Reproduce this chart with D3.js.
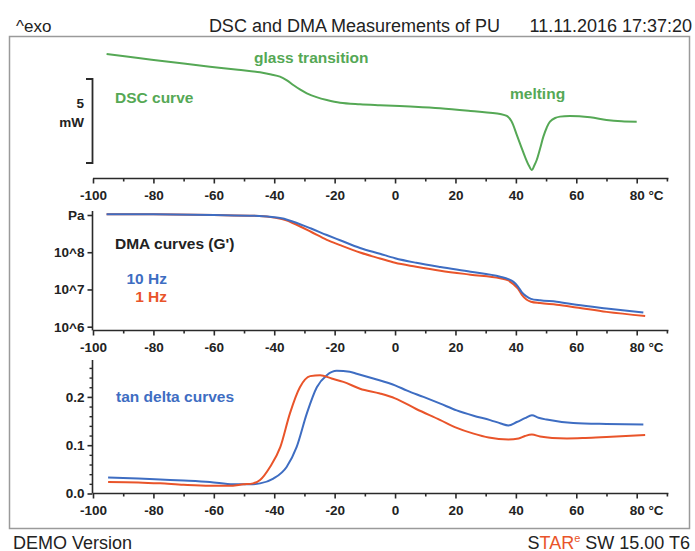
<!DOCTYPE html>
<html><head><meta charset="utf-8">
<script src="https://cdn.jsdelivr.net/npm/d3@7"></script>
<style>
html,body{margin:0;padding:0;background:#fff;}
svg text{font-family:"Liberation Sans",Arial,sans-serif;}
</style></head>
<body>
<svg id="c" width="695" height="551"></svg>
<script>
// ---------- data ----------
const xTicksMajor = [-100,-80,-60,-40,-20,0,20,40,60,80];
const xTicksMinor = [-90,-70,-50,-30,-10,10,30,50,70,90];

// DSC heat flow (mW, arbitrary offset) vs temperature (°C)
const dscT  = [-95.5,-85,-77.8,-70,-61.3,-52,-44.7,-41,-38.1,-35.8,-33.7,-31.5,-29.2,-26,-22.6,-18.2,-11.6,-5,5,14.9,25,34.8,37,38.5,40.3,41.8,43,44.3,45.3,46.1,46.9,48,49.1,50.2,51.3,53,54.6,57.9,64.6,70,75,80];
const dscMW = [6.49,6.25,6.09,5.92,5.73,5.55,5.40,5.27,5.14,4.92,4.64,4.38,4.15,3.92,3.75,3.59,3.50,3.44,3.36,3.26,3.10,2.92,2.80,2.50,1.67,0.95,0.38,-0.15,-0.42,-0.15,0.18,0.85,1.57,2.10,2.46,2.68,2.76,2.80,2.72,2.56,2.48,2.46];
const dscScaleBar = [0,5]; // 5 mW

// DMA storage modulus G' (Pa)
const dmaT10 = [-95.5,-80,-60,-45,-40,-36,-33.7,-28,-22.6,-18.2,-11.6,-5,0,7,15,25,34.8,37.5,39.2,40.7,42,43.5,45,48,53.5,60,70,82.2];
const dmaG10 = [1.05e9,1.04e9,1.0e9,9.4e8,8.7e8,7.6e8,6.6e8,4.4e8,2.9e8,2.1e8,1.3e8,9.1e7,6.9e7,5.2e7,4.0e7,3.0e7,2.2e7,1.9e7,1.6e7,1.2e7,8.3e6,6.5e6,5.6e6,5.1e6,4.7e6,3.9e6,3.1e6,2.4e6];
const dmaT1  = [-95.5,-80,-60,-45,-40,-36,-33.7,-28,-22.6,-18.2,-11.6,-5,0,7,15,25,34.8,37.5,39.2,40.7,42,43.5,45,48,53.5,60,70,82.8];
const dmaG1  = [1.05e9,1.04e9,1.0e9,9.4e8,8.5e8,7.2e8,6.0e8,3.6e8,2.15e8,1.55e8,9.8e7,6.8e7,5.2e7,4.1e7,3.2e7,2.5e7,2.0e7,1.75e7,1.38e7,1.05e7,7.2e6,5.4e6,4.7e6,4.3e6,3.9e6,3.3e6,2.5e6,1.95e6];
const dmaYTicks = [1e6,1e7,1e8,1e9];
const dmaYLabels = ["10^6","10^7","10^8","Pa"];

// tan delta
const tanT10 = [-95,-85,-77.8,-70,-61.3,-53.5,-48,-44.7,-40.3,-35.9,-32.6,-29.2,-25.9,-22.6,-19.3,-15,-12.7,-7.2,0,4,9.4,15,20.4,26,31.5,35,37.5,40.3,43,45.3,47.5,50.2,59,70,82.2];
const tan10  = [0.033,0.031,0.029,0.027,0.024,0.019,0.019,0.021,0.031,0.055,0.096,0.166,0.220,0.245,0.254,0.252,0.248,0.238,0.224,0.213,0.200,0.186,0.172,0.161,0.152,0.145,0.141,0.148,0.156,0.162,0.157,0.153,0.146,0.144,0.143];
const tanT1  = [-95,-85,-77.8,-70,-61.3,-55,-50.2,-47,-44.7,-41.4,-38,-34.8,-31.5,-28.1,-24.8,-21,-17.1,-11.6,-5,0,7,15,20,26,31,37.5,40.9,43,45.3,48,52,56.9,63,70,82.8];
const tan1   = [0.024,0.023,0.021,0.018,0.016,0.016,0.019,0.021,0.028,0.055,0.096,0.166,0.220,0.243,0.245,0.238,0.231,0.217,0.207,0.197,0.175,0.152,0.137,0.124,0.116,0.112,0.114,0.119,0.122,0.118,0.115,0.114,0.115,0.117,0.121];
const tanYMajor = [0,0.1,0.2];
const tanYMinor = [0.02,0.04,0.06,0.08,0.12,0.14,0.16,0.18,0.22,0.24,0.26];

// ---------- drawing ----------
const svg = d3.select("#c");
const GREEN="#55a855", BLUE="#3e6dc2", RED="#e9542a", AX="#2a2a2a";
const x = d3.scaleLinear().domain([-100,80]).range([93,636.7]);
const xEnd = 90.5;

// frame
svg.append("rect").attr("x",9.5).attr("y",36.5).attr("width",680).attr("height",492)
  .attr("fill","none").attr("stroke","#9a9a9a").attr("stroke-width",1.5);

// header & footer
svg.append("text").attr("x",16).attr("y",31.5).attr("font-size",17).attr("fill","#222").text("^exo");
svg.append("text").attr("x",500).attr("y",31.5).attr("text-anchor","end").attr("font-size",18).attr("fill","#222").text("DSC and DMA Measurements of PU");
svg.append("text").attr("x",692).attr("y",31.5).attr("text-anchor","end").attr("font-size",18).attr("fill","#222").text("11.11.2016 17:37:20");
svg.append("text").attr("x",13).attr("y",548.5).attr("font-size",18).attr("fill","#222").text("DEMO Version");
const st = svg.append("text").attr("x",690).attr("y",548.5).attr("text-anchor","end").attr("font-size",18).attr("fill","#222");
st.append("tspan").text("S");
st.append("tspan").attr("fill",RED).text("TAR");
st.append("tspan").attr("fill",RED).attr("font-size",11).attr("dy",-7).text("e");
st.append("tspan").attr("dy",7).text(" SW 15.00 T6");

function xAxis(yPos){
  const g = svg.append("g").attr("transform",`translate(0,${yPos})`);
  g.append("line").attr("x1",x(-100)).attr("x2",x(xEnd)).attr("y1",0).attr("y2",0)
    .attr("stroke",AX).attr("stroke-width",1.6);
  const maj = g.append("g").call(d3.axisBottom(x).tickValues(xTicksMajor).tickSize(5).tickPadding(7).tickFormat(d=>String(d)));
  maj.select(".domain").remove();
  maj.selectAll(".tick line").attr("stroke",AX).attr("stroke-width",1.6);
  maj.selectAll(".tick text").attr("font-family","Liberation Sans, Arial, sans-serif")
    .attr("font-size",13.5).attr("font-weight","bold").attr("fill","#222");
  maj.selectAll(".tick text").filter(d=>d===80).each(function(){
    const t=d3.select(this); const w=this.getComputedTextLength();
    t.text("80 °C").attr("text-anchor","start").attr("x",-w/2);
  });
  const mnr = g.append("g").call(d3.axisBottom(x).tickValues(xTicksMinor).tickSize(3).tickFormat(""));
  mnr.select(".domain").remove();
  mnr.selectAll(".tick line").attr("stroke",AX).attr("stroke-width",1.6);
}

// ---- DSC panel ----
const yDSC = d3.scaleLinear().domain(dscScaleBar).range([163,79]);
xAxis(178.5);
svg.append("path").attr("fill","none").attr("stroke",AX).attr("stroke-width",1.8)
  .attr("d",`M86,${yDSC(5)}H92.5V${yDSC(0)}H86`);
svg.append("text").attr("x",84).attr("y",108).attr("text-anchor","end").attr("font-size",13.5).attr("font-weight","bold").attr("fill","#222").text("5");
svg.append("text").attr("x",84).attr("y",127).attr("text-anchor","end").attr("font-size",13.5).attr("font-weight","bold").attr("fill","#222").text("mW");
const dscData = dscT.map((t,i)=>[t,dscMW[i]]);
svg.append("path").datum(dscData).attr("fill","none").attr("stroke",GREEN).attr("stroke-width",2)
  .attr("d",d3.line().x(d=>x(d[0])).y(d=>yDSC(d[1])).curve(d3.curveCatmullRom.alpha(0.5)));
const ann = (tx,ty,txt,col)=>svg.append("text").attr("x",tx).attr("y",ty).attr("font-size",15.5)
  .attr("font-weight","bold").attr("fill",col).text(txt);
ann(254,63,"glass transition",GREEN);
ann(115,102.5,"DSC curve",GREEN);
ann(510,98.5,"melting",GREEN);

// ---- DMA panel ----
const yDMA = d3.scaleLog().domain([1e6,1e9]).range([326.7,215]);
const dmaAxisY = 330.5;
xAxis(dmaAxisY);
svg.append("line").attr("x1",92.5).attr("x2",92.5).attr("y1",211).attr("y2",dmaAxisY)
  .attr("stroke",AX).attr("stroke-width",1.6);
const ya = svg.append("g").attr("transform","translate(92.5,0)")
  .call(d3.axisLeft(yDMA).tickValues(dmaYTicks).tickSize(5).tickPadding(3).tickFormat((d,i)=>dmaYLabels[i]));
ya.select(".domain").remove();
ya.selectAll(".tick line").attr("stroke",AX).attr("stroke-width",1.6);
ya.selectAll(".tick text").attr("font-family","Liberation Sans, Arial, sans-serif").attr("font-size",13.5).attr("font-weight","bold").attr("fill","#222");
const lineDMA = d3.line().x(d=>x(d[0])).y(d=>yDMA(d[1])).curve(d3.curveMonotoneX);
svg.append("path").datum(dmaT1.map((t,i)=>[t,dmaG1[i]])).attr("fill","none").attr("stroke",RED).attr("stroke-width",2).attr("d",lineDMA);
svg.append("path").datum(dmaT10.map((t,i)=>[t,dmaG10[i]])).attr("fill","none").attr("stroke",BLUE).attr("stroke-width",2).attr("d",lineDMA);
ann(115,248.5,"DMA curves (G')","#222");
ann(167,283.5,"10 Hz",BLUE).attr("text-anchor","end");
ann(167,302,"1 Hz",RED).attr("text-anchor","end");

// ---- tan delta panel ----
const yTan = d3.scaleLinear().domain([0,0.1]).range([493.5,445.2]);
xAxis(493.5);
svg.append("line").attr("x1",92.5).attr("x2",92.5).attr("y1",360).attr("y2",493.5)
  .attr("stroke",AX).attr("stroke-width",1.6);
const ta = svg.append("g").attr("transform","translate(92.5,0)")
  .call(d3.axisLeft(yTan).tickValues(tanYMajor).tickSize(5).tickPadding(3).tickFormat(d3.format(".1f")));
ta.select(".domain").remove();
ta.selectAll(".tick line").attr("stroke",AX).attr("stroke-width",1.6);
ta.selectAll(".tick text").attr("font-family","Liberation Sans, Arial, sans-serif").attr("font-size",13.5).attr("font-weight","bold").attr("fill","#222");
const tm = svg.append("g").attr("transform","translate(92.5,0)")
  .call(d3.axisLeft(yTan).tickValues(tanYMinor).tickSize(3).tickFormat(""));
tm.select(".domain").remove();
tm.selectAll(".tick line").attr("stroke",AX).attr("stroke-width",1.4);
const lineTan = d3.line().x(d=>x(d[0])).y(d=>yTan(d[1])).curve(d3.curveMonotoneX);
svg.append("path").datum(tanT10.map((t,i)=>[t,tan10[i]])).attr("fill","none").attr("stroke",BLUE).attr("stroke-width",2).attr("d",lineTan);
svg.append("path").datum(tanT1.map((t,i)=>[t,tan1[i]])).attr("fill","none").attr("stroke",RED).attr("stroke-width",2).attr("d",lineTan);
ann(116,402,"tan delta curves",BLUE);
</script>
</body></html>
